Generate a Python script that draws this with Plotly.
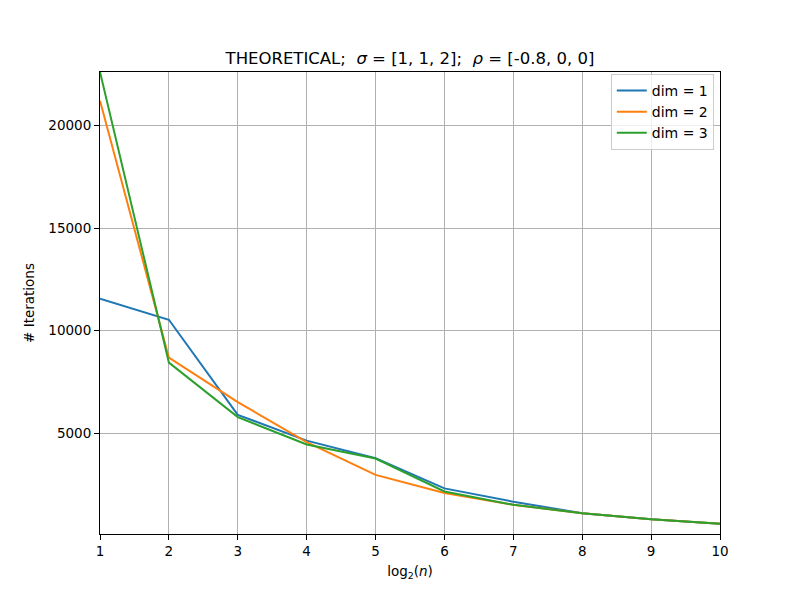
import plotly.graph_objects as go

x_vals = [1, 2, 3, 4, 5, 6, 7, 8, 9, 10]
dim1 = [11560, 10530, 5890, 4630, 3770, 2300, 1650, 1090, 795, 575]
dim2 = [21220, 8680, 6510, 4560, 2960, 2080, 1500, 1085, 790, 570]
dim3 = [22620, 8440, 5780, 4440, 3760, 2150, 1500, 1085, 790, 570]
series_names = ["dim = 1", "dim = 2", "dim = 3"]
colors = ["#1f77b4", "#ff7f0e", "#2ca02c"]
y_ticks = [5000, 10000, 15000, 20000]
y_tick_labels = ["5000", "10000", "15000", "20000"]

fig = go.Figure()
for name, ys, c in zip(series_names, [dim1, dim2, dim3], colors):
    fig.add_trace(go.Scatter(x=x_vals, y=ys, mode="lines", name=name,
                             line=dict(color=c, width=2)))

axis_common = dict(showline=True, linecolor="black", linewidth=1, mirror=True,
                   ticks="outside", ticklen=5, tickcolor="black",
                   showgrid=True, gridcolor="#b0b0b0", gridwidth=1,
                   zeroline=False, tickfont=dict(size=13.5, color="black"))

fig.update_layout(
    width=800, height=600,
    margin=dict(l=100, r=80, t=72, b=66),
    paper_bgcolor="white", plot_bgcolor="white",
    font=dict(family="DejaVu Sans", size=13.5, color="black"),
    title=dict(text="THEORETICAL;  <i>σ</i> = [1, 1, 2];  <i>ρ</i> = [-0.8, 0, 0]",
               x=(100 + 720) / 2 / 800, xanchor="center",
               y=1 - 58 / 600, yanchor="middle", font=dict(size=16.5)),
    xaxis=dict(range=[1, 10], tickvals=x_vals, ticktext=[str(v) for v in x_vals],
               title=dict(text="log<sub>2</sub>(<i>n</i>)", standoff=8,
                          font=dict(size=13.5)), **axis_common),
    yaxis=dict(range=[75, 22620], tickvals=y_ticks, ticktext=y_tick_labels,
               title=dict(text="# Iterations", standoff=10,
                          font=dict(size=13.5)), **axis_common),
    legend=dict(x=0.99, y=0.996, xanchor="right", yanchor="top",
                bordercolor="#cccccc", borderwidth=1, bgcolor="rgba(255,255,255,0.8)",
                font=dict(size=14), tracegroupgap=0),
    showlegend=True,
)

fig.write_html("out.html")
